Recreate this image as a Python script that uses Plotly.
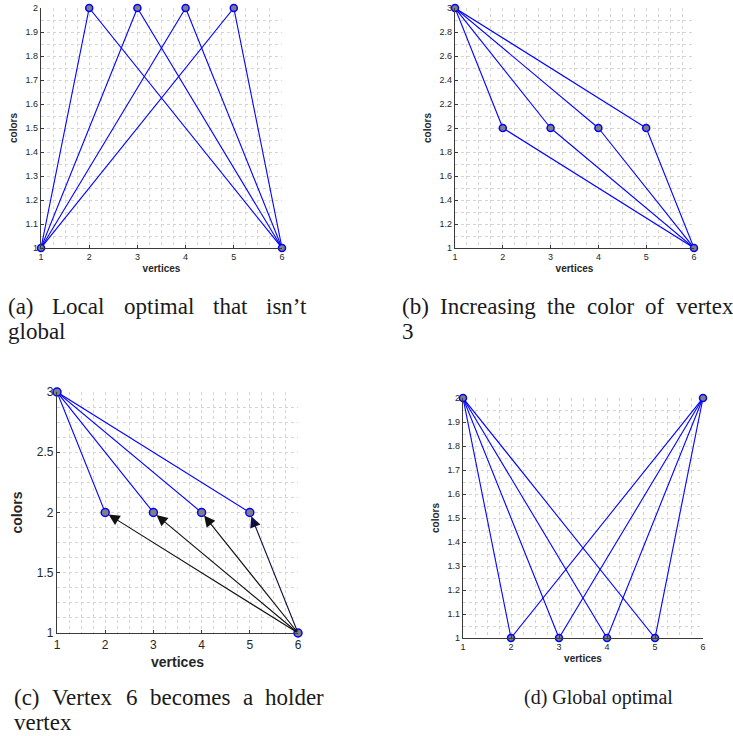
import plotly.graph_objects as go

vertices = [1, 2, 3, 4, 5, 6]
colors_a = [1, 2, 2, 2, 2, 1]
colors_b = [3, 2, 2, 2, 2, 1]
colors_c = [3, 2, 2, 2, 2, 1]
colors_d = [2, 1, 1, 1, 1, 2]
edges = [(1, 2), (1, 3), (1, 4), (1, 5), (6, 2), (6, 3), (6, 4), (6, 5)]
edges_c = [(1, 2), (1, 3), (1, 4), (1, 5)]
arrow_src_c = 6
arrow_dst_c = [2, 3, 4, 5]
caption_a = ["(a) Local optimal that isn\u2019t", "global"]
caption_b = ["(b) Increasing the color of vertex", "3"]
caption_c = ["(c) Vertex 6 becomes a holder", "vertex"]
caption_d = "(d) Global optimal"

W, H = 733, 736

def px_x(p):
    return p / W

def px_y(p):
    return 1 - p / H

panels = [
    dict(key="a", col=colors_a, edges=edges, ax="", xr=(41, 282), yr=(8, 248), yrange=(1, 2), dtick=0.1, minor=0.05,
         tsize=9, ttsize=10, msize=7),
    dict(key="b", col=colors_b, edges=edges, ax="2", xr=(455, 694), yr=(8, 248), yrange=(1, 3), dtick=0.2, minor=0.1,
         tsize=9, ttsize=10, msize=7),
    dict(key="c", col=colors_c, edges=edges_c, ax="3", xr=(57, 298), yr=(392, 633), yrange=(1, 3), dtick=0.5, minor=0.125,
         tsize=12, ttsize=14, msize=8),
    dict(key="d", col=colors_d, edges=edges, ax="4", xr=(463, 703), yr=(398, 638), yrange=(1, 2), dtick=0.1, minor=0.05,
         tsize=9, ttsize=10, msize=7),
]

fig = go.Figure()
layout = {}
annotations = []

for p in panels:
    col = dict(zip(vertices, p["col"]))
    ex, ey = [], []
    for a, b in p["edges"]:
        ex += [a, b, None]
        ey += [col[a], col[b], None]
    xa = "x" + p["ax"]
    ya = "y" + p["ax"]
    fig.add_trace(go.Scatter(x=ex, y=ey, mode="lines", line=dict(color="#0000ff", width=1.1),
                             xaxis=xa, yaxis=ya, showlegend=False, hoverinfo="skip", cliponaxis=False))
    if p["key"] == "c":
        for d in arrow_dst_c:
            annotations.append(dict(
                x=d, y=col[d], ax=arrow_src_c, ay=col[arrow_src_c],
                xref=xa, yref=ya, axref=xa, ayref=ya,
                showarrow=True, arrowhead=2, arrowsize=2.0, arrowwidth=1.1,
                arrowcolor="#101040" if d == 5 else "#111111", standoff=4, text=""))
    fig.add_trace(go.Scatter(x=vertices, y=p["col"], mode="markers",
                             marker=dict(size=p["msize"], color="#808080", line=dict(color="#0000ff", width=1.5)),
                             xaxis=xa, yaxis=ya, showlegend=False, cliponaxis=False))

    common = dict(showgrid=True, gridcolor="#d4d4d4", griddash="dot", gridwidth=1,
                  showline=True, linecolor="#3a3a3a", linewidth=1.2,
                  ticks="inside", ticklen=3, tickcolor="#3a3a3a", automargin=False,
                  tickfont=dict(family="Liberation Sans, Arial", size=p["tsize"], color="#262626"),
                  zeroline=False, mirror=False)
    xkey = "xaxis" + p["ax"]
    ykey = "yaxis" + p["ax"]
    layout[xkey] = dict(
        domain=[px_x(p["xr"][0]), px_x(p["xr"][1])], anchor=ya, range=[1, 6], dtick=1, tick0=1,
        title=dict(text="<b>vertices</b>", font=dict(family="Liberation Sans, Arial", size=p["ttsize"], color="#262626"),
                   standoff=4 if p["key"] != "c" else 6),
        minor=dict(dtick=0.25, showgrid=True, gridcolor="#d4d4d4", griddash="dot", ticks=""),
        **common)
    layout[ykey] = dict(
        domain=[px_y(p["yr"][1]), px_y(p["yr"][0])], anchor=xa, range=list(p["yrange"]), dtick=p["dtick"], tick0=1,
        title=dict(text="<b>colors</b>", font=dict(family="Liberation Sans, Arial", size=p["ttsize"], color="#262626"),
                   standoff=6 if p["key"] != "c" else 10),
        minor=dict(dtick=p["minor"], showgrid=True, gridcolor="#d4d4d4", griddash="dot", ticks=""),
        **common)

SERIF = "Liberation Serif, Times New Roman, serif"
FS = 23
# Approximate Times (Liberation Serif) advance widths per 1000 em, used to justify caption lines
TW = {" ": 250, "(": 333, ")": 333, "\u2019": 333, "a": 444, "b": 500, "c": 444, "d": 500, "e": 444,
      "f": 333, "g": 500, "h": 500, "i": 278, "l": 278, "m": 778, "n": 500, "o": 500, "p": 500,
      "r": 333, "s": 389, "t": 278, "u": 500, "v": 500, "x": 500, "L": 611, "I": 333, "V": 722,
      "G": 722, "3": 500, "6": 500}

def word_w(w, size):
    return sum(TW.get(ch, 500) for ch in w) * size / 1000.0

def cap(text, xpx, ypx, size, anchor="left"):
    annotations.append(dict(text=text, x=px_x(xpx), y=px_y(ypx), xref="paper", yref="paper",
                            xanchor=anchor, yanchor="middle", showarrow=False,
                            font=dict(family=SERIF, size=size, color="#1a1a1a")))

def justified(text, left, right, ypx, size):
    words = text.split(" ")
    widths = [word_w(w, size) for w in words]
    gap = (right - left - sum(widths)) / (len(words) - 1)
    x = left
    for w, ww in zip(words, widths):
        cap(w, x, ypx, size)
        x += ww + gap

justified(caption_a[0], 6, 305, 306, FS)
cap(caption_a[1], 6, 331, FS)
justified(caption_b[0], 400, 731, 306, FS)
cap(caption_b[1], 400, 331, FS)
justified(caption_c[0], 12, 322, 697, FS)
cap(caption_c[1], 12, 722, FS)
cap(caption_d, 598, 697, 20, anchor="center")

fig.update_layout(width=W, height=H, margin=dict(l=0, r=0, t=0, b=0),
                  paper_bgcolor="white", plot_bgcolor="white",
                  annotations=annotations, **layout)

fig.write_html("out.html", config={"displayModeBar": False},
               post_script="document.body.style.margin='0';document.body.style.padding='0';")
